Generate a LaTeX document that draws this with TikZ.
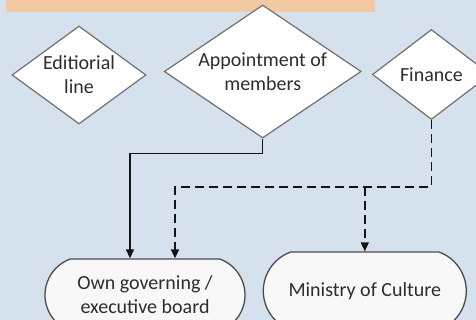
\documentclass[tikz,border=0pt]{standalone}
\usepackage{fontspec}
\setmainfont{Carlito}
\definecolor{paleblue}{RGB}{213,226,238}
\definecolor{peach}{RGB}{242,201,163}
\definecolor{inkgrey}{RGB}{45,45,45}
\definecolor{edgegrey}{RGB}{112,112,112}
\definecolor{bodyedge}{RGB}{75,75,75}
\definecolor{bodyfill}{RGB}{248,248,248}
\definecolor{linkblack}{RGB}{20,20,20}
\usetikzlibrary{arrows.meta,positioning,shapes.geometric,shapes.misc}

\begin{document}
\begin{tikzpicture}[
  x=1pt, y=1pt,
  every node/.style={font=\fontsize{20}{24}\selectfont, text=inkgrey},
  choice/.style={
    diamond,
    draw=edgegrey, line width=1.2pt,
    fill=white,
    inner sep=0pt, align=center},
  body/.style={
    rounded rectangle, rounded rectangle arc length=140,
    draw=bodyedge, line width=1.3pt,
    fill=bodyfill,
    inner sep=0pt, align=center},
  link/.style={
    draw=linkblack, line width=1.5pt,
    -{Triangle[length=9pt,width=8pt]}},
  dashlink/.style={link, dash pattern=on 9pt off 5pt}
]
  %% ── Fondo ─────────────────────────────────────────────────
  \useasboundingbox (0,0) rectangle (476,320);
  \fill[paleblue] (0,0) rectangle (476,320);
  \clip (0,0) rectangle (476,320);
  \fill[peach] (6,308) rectangle (375,320);

  %% ── Decision diamonds ─────────────────────────────────────
  \node[choice, aspect=1.37, minimum width=134pt, minimum height=98pt]
    (edit) at (79,245) {Editiorial\\line};

  \node[choice, aspect=1.48, minimum width=197pt, minimum height=133pt,
        right=17pt of edit, yshift=3.5pt]
    (app) {Appointment of\\members};

  \node[choice, aspect=1.31, minimum width=118pt, minimum height=90pt,
        right=10pt of app, yshift=-3pt]
    (fin) {Finance};

  %% ── Bodies ────────────────────────────────────────────────
  \node[body, minimum width=200pt, minimum height=72pt]
    (gov) at (145,25) {Own governing /\\executive board};

  \node[body, minimum width=203pt, minimum height=78pt,
        right=17pt of gov, yshift=4pt]
    (min) {Ministry of Culture};

  %% ── Appointment → board: solid ────────────────────────────
  \draw[link] (app.south) -- ++(0,-15) -| ([xshift=-15pt]gov.north);

  %% ── Finance → board / ministry: dashed ────────────────────
  \draw[dashlink] (fin.south) -- ++(0,-67) coordinate (fork)
    -| ([xshift=30pt]gov.north);
  \draw[dashlink] (fork -| min.north) -- (min.north);

\end{tikzpicture}
\end{document}
